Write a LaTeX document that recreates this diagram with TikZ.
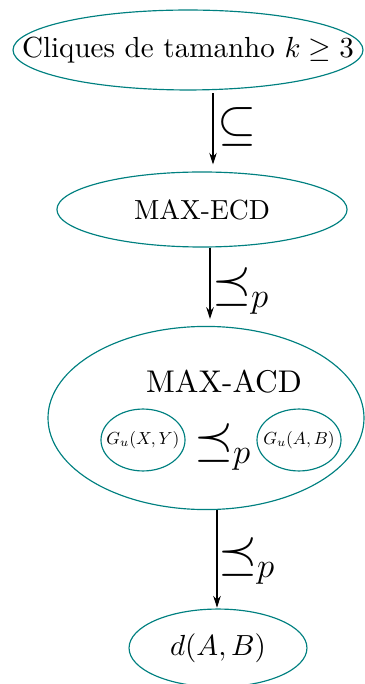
\documentclass[tikz,border=0pt]{standalone}
\usetikzlibrary{shapes.geometric,arrows.meta}
\definecolor{ellc}{RGB}{0,128,128}
\begin{document}
\begin{tikzpicture}[x=0.344pt,y=-0.344pt,
  ell/.style={draw=ellc, ellipse, inner sep=0pt, line width=0.4pt},
  arr/.style={-{Stealth[length=4pt,width=2.6pt]}, line width=0.35pt},
  lab/.style={font=\fontsize{17.28}{20}\selectfont, inner sep=0pt}]
\useasboundingbox (0,0) rectangle (364,684);
\node[ell, minimum width=120.4pt, minimum height=27.5pt] (top) at (188,50)
  {\makebox[0pt]{\fontsize{10}{12}\selectfont Cliques de tamanho $k\geq 3$}};
\node[ell, minimum width=99.8pt, minimum height=25.8pt] (ecd) at (202,209.5)
  {\makebox[0pt]{\fontsize{9.5}{11}\selectfont MAX-ECD}};
\node[ell, minimum width=108.7pt, minimum height=63pt] (acd) at (206,418) {};
\node[inner sep=0pt, font=\fontsize{10.8}{13}\selectfont] (acdtext) at (224,382) {MAX-ACD};
\node[ell, minimum width=28.9pt, minimum height=21.3pt] (gxy) at (143,440)
  {\makebox[0pt]{\scalebox{0.6}{$G_u(X,Y)$}}};
\node[ell, minimum width=28.9pt, minimum height=21.3pt] (gab) at (299,440)
  {\makebox[0pt]{\scalebox{0.6}{$G_u(A,B)$}}};
\node[lab] (rel) at (223,447) {$\preceq_p$};
\node[ell, minimum width=61.2pt, minimum height=26.8pt] (bot) at (218,648)
  {\makebox[0pt]{\fontsize{9.6}{11}\selectfont $d(A,B)$}};
\coordinate (c1) at (213,0);
\coordinate (c2) at (210,0);
\coordinate (c3) at (217,0);
\draw[arr, shorten <=1pt, shorten >=2.4pt] (top.south -| c1) -- (ecd.north -| c1);
\draw[arr, shorten >=2.4pt] (ecd.south -| c2) -- (acd.north -| c2);
\draw[arr, shorten >=0.3pt] (acd.south -| c3) -- (bot.north -| c3);
\node[lab] (l1) at (237,127) {$\subseteq$};
\node[lab] (l2) at (241,291) {$\preceq_p$};
\node[lab] (l3) at (247,561) {$\preceq_p$};
\end{tikzpicture}
\end{document}
